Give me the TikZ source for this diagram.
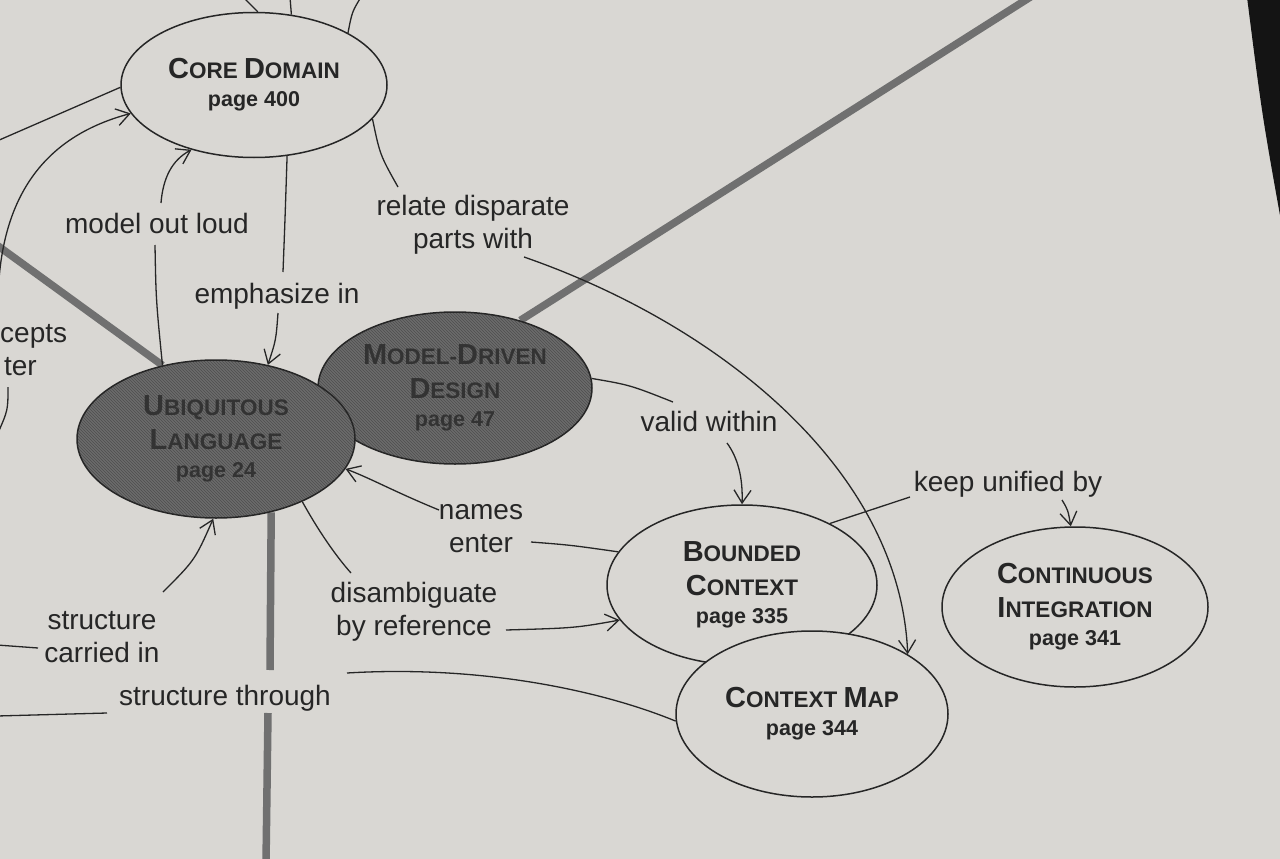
\documentclass[tikz,border=0pt]{standalone}
\usepackage{fontspec}
\setmainfont{Liberation Sans}
\usetikzlibrary{shapes.geometric,arrows.meta,patterns}
\definecolor{paper}{HTML}{D9D7D3}
\definecolor{ink}{HTML}{262626}
\definecolor{shade}{HTML}{6C6C6C}
\definecolor{hatch}{HTML}{4E4E4E}
\definecolor{hubgray}{HTML}{707070}
\definecolor{darktext}{HTML}{333333}
\newcommand\SC[2]{{\fontsize{29}{34}\selectfont #1}#2}
\newcommand\pg[1]{{\fontsize{21.5}{24}\selectfont #1}}
\pgfdeclarelayer{bg}
\pgfsetlayers{bg,main}
\tikzset{
  concept/.style={ellipse, draw=ink, line width=1.5pt, fill=paper, inner sep=0pt, align=center, text=ink, font=\fontsize{22.5}{34}\selectfont\bfseries},
  keyconcept/.style={ellipse, draw=ink, line width=1.5pt, inner sep=0pt, align=center, text=darktext, font=\fontsize{22.5}{34}\selectfont\bfseries, preaction={fill=shade}, pattern=north west lines, pattern color=hatch},
  lbl/.style={font=\fontsize{28}{33}\selectfont, text=ink, align=center, inner sep=0pt, anchor=base},
  rel/.style={draw=ink, line width=1.3pt},
  relarrow/.style={rel, -{Straight Barb[length=13pt,width=17pt,line width=1.3pt]}},
  hub/.style={draw=hubgray, line width=7.5pt},
}
\begin{document}
\begin{tikzpicture}[x=1pt,y=-1pt]
\useasboundingbox (0,0) rectangle (1280,859);
\begin{pgfonlayer}{bg}
  \fill[paper] (-2,-2) rectangle (1282,861);
\end{pgfonlayer}

% concepts
\node[concept, minimum width=266pt, minimum height=145pt] (cd) at (254,85)
  {\SC{C}{ORE} \SC{D}{OMAIN}\\[-6pt]\pg{page 400}};
\node[keyconcept, minimum width=274pt, minimum height=152pt] (mdd) at (455,388)
  {\SC{M}{ODEL-}\SC{D}{RIVEN}\\\SC{D}{ESIGN}\\[-6pt]\pg{page 47}};
\node[keyconcept, minimum width=278pt, minimum height=158pt] (ul) at (216,439)
  {\SC{U}{BIQUITOUS}\\\SC{L}{ANGUAGE}\\[-6pt]\pg{page 24}};
\node[concept, minimum width=270pt, minimum height=160pt] (bc) at (742,585)
  {\SC{B}{OUNDED}\\\SC{C}{ONTEXT}\\[-6pt]\pg{page 335}};
\node[concept, minimum width=272pt, minimum height=166pt] (cm) at (812,714)
  {\SC{C}{ONTEXT} \SC{M}{AP}\\[-6pt]\pg{page 344}};
\node[concept, minimum width=266pt, minimum height=160pt] (ci) at (1075,607)
  {\SC{C}{ONTINUOUS}\\\SC{I}{NTEGRATION}\\[-6pt]\pg{page 341}};

% labels (base = baseline of the last line)
\node[lbl] (lmodel) at (157,233) {model out loud};
\node[lbl] (lemph) at (277,303) {emphasize in};
\node[lbl] (lrelate) at (473,248) {relate disparate\\parts with};
\node[lbl] (lvalid) at (709,431) {valid within};
\node[lbl] (lnames) at (481,552) {names\\enter};
\node[lbl] (ldis) at (414,635) {disambiguate\\by reference};
\node[lbl] (lkeep) at (1008,491) {keep unified by};
\node[lbl] (lcarr) at (102,662) {structure\\carried in};
\node[lbl] (lthru) at (225,705) {structure through};
\node[lbl, anchor=base west] (lcep) at (0,342) {cepts};
\node[lbl, anchor=base east] (lter) at (37,375) {ter};

% free ends off the page
\coordinate (t1) at (243,-3);
\coordinate (t2) at (290,-3);
\coordinate (t3) at (361,-3);
\coordinate (w1) at (-3,141);
\coordinate (w2) at (-2,300);
\coordinate (w3) at (-2,433);
\coordinate (w4) at (-3,645);
\coordinate (w5) at (-3,716);
\coordinate (nw) at (-6,243);
\coordinate (ne) at (1032,-4);
\coordinate (sb) at (266,863);

% thick hub lines behind the concepts
\begin{pgfonlayer}{bg}
  \draw[hub] (ul.126) -- (nw);
  \draw[hub] (mdd.46) -- (ne);
  \draw[hub] (ul.307) -- ([shift={(45,-35)}]lthru.base);
  \draw[hub] ([shift={(43,8)}]lthru.base) -- (sb);
\end{pgfonlayer}

% connectors
\draw[rel] (t1) -- (cd.87);
\draw[rel] (t2) -- (cd.62);
\draw[rel] (t3) .. controls (352,12) .. (cd.29);
\draw[rel] (w1) -- (cd.181);
\draw[relarrow] (w2) .. controls (0,190) and (50,135) .. (cd.193);
\draw[rel] ([shift={(-29,12)}]lter.base east) .. controls (8,410) .. (w3);

\draw[rel] ([shift={(-2,12)}]lmodel.base) .. controls (156,300) .. (ul.126);
\draw[relarrow] ([shift={(4,-30)}]lmodel.base) .. controls (163,178) and (172,160) .. (cd.226);

\draw[rel] (cd.295) .. controls (285,220) .. ([shift={(6,-31)}]lemph.base);
\draw[relarrow] ([shift={(1,10)}]lemph.base) .. controls (276,340) .. (ul.55);

\draw[rel] (cd.344) .. controls (380,155) .. ([shift={(-75,-61)}]lrelate.base);
\draw[relarrow] ([shift={(51,9)}]lrelate.base) .. controls (720,325) and (900,470) .. (cm.32);

\draw[rel] (mdd.4) .. controls (630,385) .. ([shift={(-36,-29)}]lvalid.base);
\draw[relarrow] ([shift={(18,12)}]lvalid.base) .. controls (738,458) and (743,478) .. (bc.90);

\draw[rel] (bc.165) .. controls (570,545) .. ([shift={(50,-10)}]lnames.base);
\draw[relarrow] ([shift={(-42,-42)}]lnames.base) .. controls (395,492) and (370,478) .. (ul.347);

\draw[rel] (ul.324) .. controls (318,530) and (335,555) .. ([shift={(-63,-62)}]ldis.base);
\draw[relarrow] ([shift={(92,-5)}]ldis.base) .. controls (575,628) .. (bc.196);

\draw[rel] (bc.35) -- ([shift={(-98,6)}]lkeep.base);
\draw[relarrow] ([shift={(54,9)}]lkeep.base) .. controls (1068,510) .. (ci.93);

\draw[rel] (w4) -- ([shift={(-64,-14)}]lcarr.base);
\draw[relarrow] ([shift={(61,-70)}]lcarr.base) .. controls (195,560) .. (ul.268);

\draw[rel] (w5) -- ([shift={(-118,8)}]lthru.base);
\draw[rel] ([shift={(122,-32)}]lthru.base) .. controls (480,665) and (600,690) .. (cm.183);

% page edge
\fill[black!92] (1247,-3) -- (1283,-3) -- (1283,232) .. controls (1262,115) .. cycle;
\end{tikzpicture}
\end{document}
